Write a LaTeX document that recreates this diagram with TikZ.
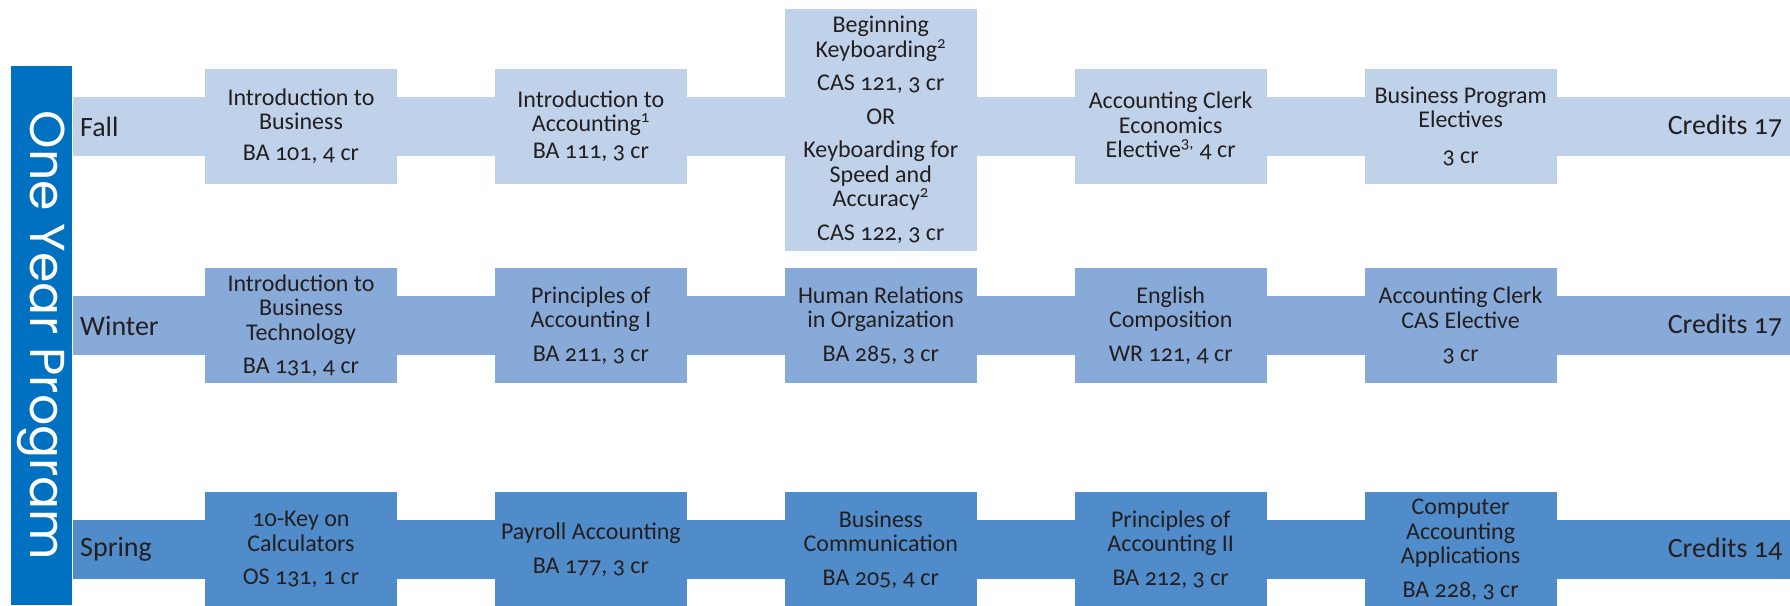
\documentclass[tikz,border=0pt]{standalone}
\usepackage{fontspec}
\setmainfont{Carlito}[Numbers=OldStyle]
\newfontfamily\yearfont{Poppins}
\usepackage{tikz}
\usetikzlibrary{positioning}
\definecolor{progBlue}{HTML}{0070C0}
\definecolor{fallBlue}{HTML}{C0D1EA}
\definecolor{winterBlue}{HTML}{88AAD8}
\definecolor{springBlue}{HTML}{508BCA}
\definecolor{inkGray}{HTML}{231F20}
\tikzset{
  year bar/.style={fill=progBlue, text=white, rotate=-90,
    minimum width=539pt, minimum height=61pt, inner sep=0pt,
    font=\yearfont\fontsize{49}{49}\selectfont},
  term band/.style={anchor=west, minimum width=1717pt,
    minimum height=59pt, inner sep=0pt},
  term label/.style={text=inkGray, inner sep=0pt,
    font=\fontsize{28}{30}\selectfont},
  course/.style={text=inkGray, align=center, minimum width=192pt,
    minimum height=115pt, inner sep=2pt,
    font=\fontsize{24}{24.5}\selectfont},
  fall course/.style={course, fill=fallBlue},
  winter course/.style={course, fill=winterBlue},
  spring course/.style={course, fill=springBlue}
}
\begin{document}
\begin{tikzpicture}[node distance=97.5pt]
  \useasboundingbox (0,0) rectangle (1790pt,-605pt);
  \node[year bar] (year) at (41.5pt,-335.5pt) {One Year Program};
  % the three terms
  \node[term band, fill=fallBlue] (fall) at (73pt,-126.5pt) {};
  \node[term band, fill=winterBlue] (winter) at (73pt,-325.5pt) {};
  \node[term band, fill=springBlue] (spring) at (73pt,-549.5pt) {};
  \node[term label, anchor=west, right=7pt of fall.west] (falltxt) {Fall};
  \node[term label, anchor=west, right=7pt of winter.west] (wintertxt) {Winter};
  \node[term label, anchor=west, right=7pt of spring.west] (springtxt) {Spring};
  \node[term label, anchor=east, left=8pt of fall.east] (fallcr) {Credits 17};
  \node[term label, anchor=east, left=8pt of winter.east] (wintercr) {Credits 17};
  \node[term label, anchor=east, left=8pt of spring.east] (springcr) {Credits 14};
  % fall
  \node[fall course] (ba101) at (301pt,-126pt)
    {Introduction to\\Business\\[6pt]BA 101, 4 cr};
  \node[fall course, right=of ba101] (ba111)
    {Introduction to\\Accounting\textsuperscript{1}\\[2pt]BA 111, 3 cr};
  \node[fall course, right=of ba111, minimum height=242pt, yshift=-4pt] (cas121)
    {Beginning\\Keyboarding\textsuperscript{2}\\[9pt]CAS 121, 3 cr\\[9pt]OR\\[9pt]%
     Keyboarding for\\Speed and\\Accuracy\textsuperscript{2}\\[9pt]CAS 122, 3 cr};
  \node[fall course, right=of cas121, yshift=4pt] (econ)
    {Accounting Clerk\\Economics\\Elective\textsuperscript{3,} 4 cr};
  \node[fall course, right=of econ] (buselect)
    {Business Program\\Electives\\[11pt]3 cr};
  % winter
  \node[winter course] (ba131) at (ba101 |- winter)
    {Introduction to\\Business\\Technology\\[9pt]BA 131, 4 cr};
  \node[winter course, right=of ba131] (ba211)
    {Principles of\\Accounting I\\[9pt]BA 211, 3 cr};
  \node[winter course, right=of ba211] (ba285)
    {Human Relations\\in Organization\\[9pt]BA 285, 3 cr};
  \node[winter course, right=of ba285] (wr121)
    {English\\Composition\\[9pt]WR 121, 4 cr};
  \node[winter course, right=of wr121] (caselect)
    {Accounting Clerk\\CAS Elective\\[9pt]3 cr};
  % spring
  \node[spring course] (os131) at (ba101 |- spring)
    {10-Key on\\Calculators\\[9pt]OS 131, 1 cr};
  \node[spring course, right=of os131] (ba177)
    {Payroll Accounting\\[9pt]BA 177, 3 cr};
  \node[spring course, right=of ba177] (ba205)
    {Business\\Communication\\[9pt]BA 205, 4 cr};
  \node[spring course, right=of ba205] (ba212)
    {Principles of\\Accounting II\\[9pt]BA 212, 3 cr};
  \node[spring course, right=of ba212] (ba228)
    {Computer\\Accounting\\Applications\\[9pt]BA 228, 3 cr};
\end{tikzpicture}
\end{document}
